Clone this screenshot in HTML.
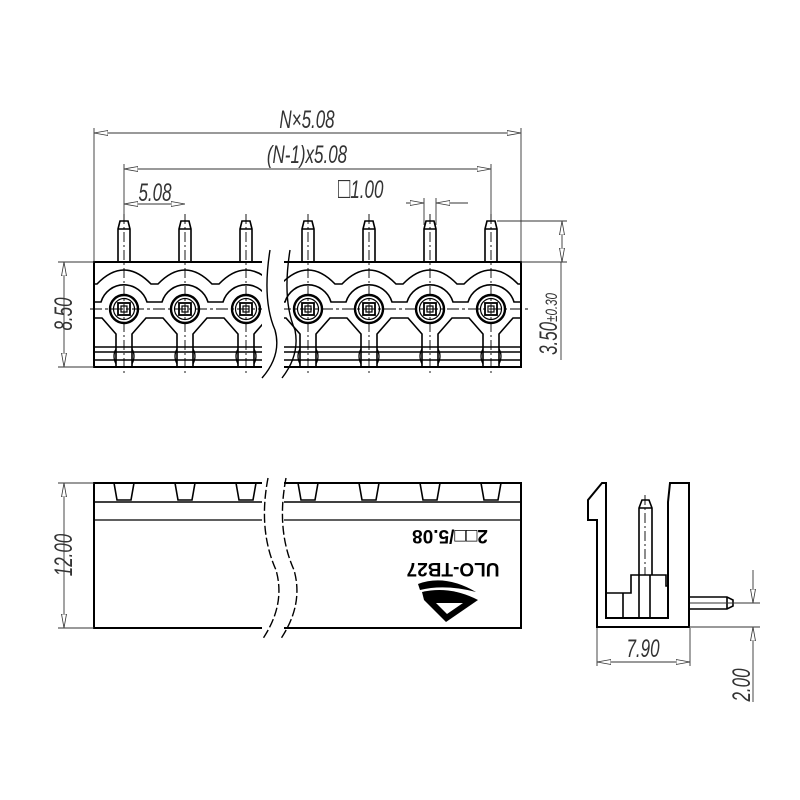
<!DOCTYPE html>
<html><head><meta charset="utf-8"><style>
html,body{margin:0;padding:0;background:#fff;}
svg{display:block;}
text{font-family:"Liberation Sans",sans-serif;}
</style></head><body>
<svg id="s" width="800" height="800" viewBox="0 0 800 800" xmlns="http://www.w3.org/2000/svg">
<defs>
<marker id="a" viewBox="0 0 14 6" refX="14" refY="3" markerWidth="14" markerHeight="6" orient="auto-start-reverse" markerUnits="userSpaceOnUse"><path d="M0,0.5 L14,3 L0,5.5 Z" fill="#fff" stroke="#333" stroke-width="0.8"/></marker>
</defs>
<g id="g" fill="none" stroke="#000" stroke-width="1.6"></g>
<g fill="#333" font-size="25" font-style="italic">
<text transform="translate(307,128) scale(0.68,1)" text-anchor="middle">N×5.08</text>
<text transform="translate(307,163) scale(0.68,1)" text-anchor="middle">(N-1)x5.08</text>
<text transform="translate(155,201) scale(0.68,1)" text-anchor="middle">5.08</text>
<text transform="translate(338,198) scale(0.68,1)"><tspan font-size="30" font-style="normal">□</tspan>1.00</text>
<text transform="translate(72,314) rotate(-90) scale(0.68,1)" text-anchor="middle">8.50</text>
<text transform="translate(557,324) rotate(-90) scale(0.68,1)" text-anchor="middle">3.50<tspan font-size="17">±0.30</tspan></text>
<text transform="translate(72,555) rotate(-90) scale(0.68,1)" text-anchor="middle">12.00</text>
<text transform="translate(643,657) scale(0.68,1)" text-anchor="middle">7.90</text>
<text transform="translate(750,685) rotate(-90) scale(0.68,1)" text-anchor="middle">2.00</text>
</g>
<g font-weight="bold" font-size="19" fill="#000" text-anchor="middle">
<text transform="translate(450,530) rotate(180)">2□□/5.08</text>
<text transform="translate(453,563) rotate(180)">ULO-TB27</text>
</g>
<g fill="#000">
<path d="M418,584 Q445,574 476,592 Q445,584 420,590 Z"/>
<path d="M422,592 Q448,586 474,598 L478,600 L446,622 L424,600 Z"/>
<path d="M436,603 L463,603 L447,614 Z" fill="#fff"/>
</g>
</svg>
<script>
var g=document.getElementById('g');var h='';
function L(x1,y1,x2,y2,e){h+='<line x1="'+x1+'" y1="'+y1+'" x2="'+x2+'" y2="'+y2+'" '+(e||'')+'/>';}
var thin='stroke-width="0.9" stroke="#333"';
var dim='stroke-width="0.9" stroke="#333" marker-start="url(#a)" marker-end="url(#a)"';
var cl='stroke-width="0.9" stroke-dasharray="10,3,2,3"';
var P=[124,185,246,308,369,430,491];
h+='<rect x="94" y="262" width="427" height="105" stroke-width="2"/>';
var d='M95,284';P.forEach(function(p){d+=' L'+(p-27)+',284 Q'+p+',256 '+(p+27)+',284';});d+=' L521,284';h+='<path d="'+d+'"/>';
var d2='M95,302';P.forEach(function(p){d2+=' L'+(p-23)+',302 A24,24 0 0 1 '+(p+23)+',302';});d2+=' L521,302';h+='<path d="'+d2+'"/>';
L(90,309,528,309,'stroke-width="0.9" stroke-dasharray="12,3,3,3"');
var d3='M95,318';P.forEach(function(p){d3+=' L'+(p-22)+',318 L'+(p-8)+',334 L'+(p-8)+',367 M'+(p+8)+',367 L'+(p+8)+',334 L'+(p+22)+',318';});d3+=' L521,318';h+='<path d="'+d3+'"/>';
P.forEach(function(p){
 h+='<path d="M'+(p-6)+',262 L'+(p-6)+',229 L'+(p-4)+',221 L'+(p+4)+',221 L'+(p+6)+',229 L'+(p+6)+',262 M'+(p-6)+',229 L'+(p+6)+',229"/>';
 h+='<circle cx="'+p+'" cy="309" r="14" stroke-width="2.4"/><circle cx="'+p+'" cy="309" r="10.5" stroke-width="1.2"/>';
 h+='<rect x="'+(p-6)+'" y="303" width="12" height="12" stroke-width="1.8"/><rect x="'+(p-3)+'" y="306" width="6" height="6" stroke-width="1.2"/>';
 h+='<path d="M'+(p-8)+',349 Q'+(p-12)+',356 '+(p-8)+',364 M'+(p+8)+',349 Q'+(p+12)+',356 '+(p+8)+',364" stroke-width="1.3"/>';
 L(p,214,p,374,cl);
 h+='<path d="M'+(p-10)+',483 L'+(p-7)+',500 L'+(p+7)+',500 L'+(p+10)+',483"/>';
});
L(94,347,521,347);L(94,352,521,352);L(94,360,521,360);
h+='<rect x="262" y="255" width="22" height="122" fill="#fff" stroke="none"/>';
h+='<path d="M270,250 Q262,300 275,330 Q282,355 262,378" stroke-width="1.4"/><path d="M290,250 Q282,300 295,330 Q300,355 282,378" stroke-width="1.4"/>';
L(94,128,94,262,thin);L(521,128,521,262,thin);L(94,133,521,133,dim);
L(124,164,124,214,thin);L(491,164,491,214,thin);L(124,169,491,169,dim);
L(124,204,185,204,dim);
L(424,198,424,225,thin);L(436,198,436,225,thin);
L(406,203,424,203,'stroke-width="0.9" stroke="#333" marker-end="url(#a)"');L(468,203,436,203,'stroke-width="0.9" stroke="#333" marker-end="url(#a)"');
L(497,221,567,221,thin);L(521,262,567,262,thin);L(562,221,562,262,dim);L(561,262,561,360,thin);
L(58,262,94,262,thin);L(58,367,94,367,thin);L(64,262,64,367,dim);
h+='<rect x="94" y="483" width="427" height="145" stroke-width="2"/>';
L(94,502,521,502);L(94,520,521,520,'stroke-width="1.2"');
h+='<rect x="262" y="478" width="22" height="160" fill="#fff" stroke="none"/>';
h+='<path d="M268,478 Q258,530 276,570 Q286,605 262,640" stroke-width="1.4" stroke-dasharray="9,3"/><path d="M286,478 Q276,530 294,570 Q304,605 280,640" stroke-width="1.4" stroke-dasharray="9,3"/>';
L(58,483,94,483,thin);L(58,628,94,628,thin);L(64,483,64,628,dim);
h+='<path d="M597,627 L597,520 L588,520 L588,500 L602,483 L606,483 L606,618 L668,618 L668,502 L670,483 L689,483 L689,627 Z" stroke-width="2"/>';
h+='<path d="M607,593 L623,593 L623,618 M623,593 L631,593 L631,575 L666,575 L666,586 L668,586" stroke-width="1.6"/>';
L(650,575,650,618);
h+='<path d="M639,618 L639,508 L642,500 L649,500 L652,508 L652,575 M639,508 L652,508"/>';
L(645,495,645,575,cl);
h+='<path d="M690,597 L727,597 L733,600 L733,606 L727,609 L690,609 M727,597 L727,609"/>';L(690,603,760,603,thin);
L(689,627,760,627,thin);L(753,570,753,603,'stroke-width="0.9" stroke="#333" marker-end="url(#a)"');L(753,660,753,627,'stroke-width="0.9" stroke="#333" marker-end="url(#a)"');L(753,660,753,702,thin);
L(597,628,597,666,thin);L(690,628,690,666,thin);L(597,662,690,662,dim);
g.innerHTML=h;
</script>
</body></html>
